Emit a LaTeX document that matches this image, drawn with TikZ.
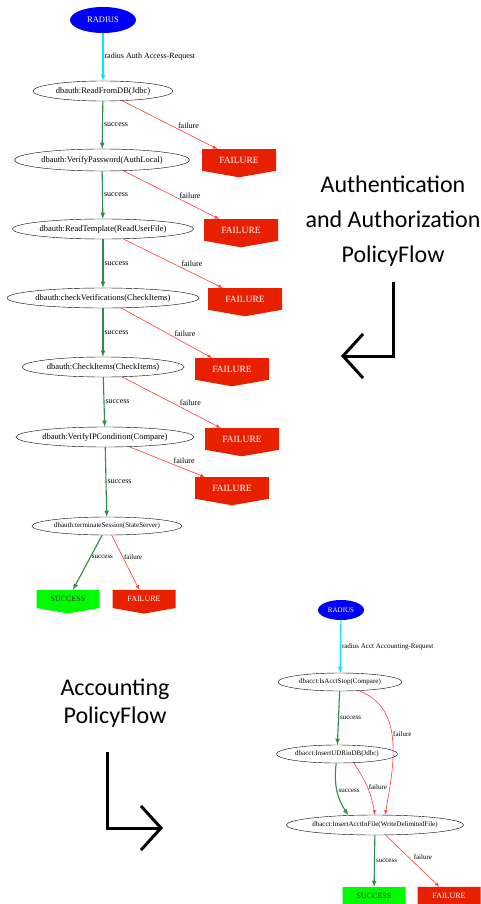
\documentclass[tikz,border=0pt]{standalone}
\usepackage{fontspec}
\setmainfont{Liberation Serif}
\newfontfamily\calibfont{Carlito}
\usetikzlibrary{positioning, arrows, arrows.meta, shapes.geometric, shapes.symbols}

\definecolor{okgreen}{RGB}{45,140,70}
\definecolor{failred}{RGB}{255,60,60}
\definecolor{failfill}{RGB}{232,32,0}
\definecolor{succfill}{RGB}{0,250,0}
\definecolor{radblue}{RGB}{0,0,250}
\definecolor{reqcyan}{RGB}{0,235,245}

\tikzset{
  method/.style={ellipse, draw, thin, inner sep=0pt, minimum height=20pt, font=\fontsize{8.5}{9}\selectfont},
  amethod/.style={method, minimum height=18pt, font=\fontsize{7}{8}\selectfont},
  radnode/.style={ellipse, fill=radblue, text=white, inner sep=0pt, minimum width=66pt, minimum height=26pt, font=\fontsize{8.5}{9}\selectfont},
  endbox/.style={signal, signal to=south, signal from=nowhere, signal pointer angle=160, inner sep=0pt, minimum width=74pt, minimum height=25pt, font=\fontsize{9.5}{10}\selectfont},
  failbox/.style={endbox, fill=failfill, text=white},
  succbox/.style={endbox, fill=succfill, text=black!80},
  smallbox/.style={minimum width=63pt, minimum height=21pt, font=\fontsize{8}{9}\selectfont},
  lbl/.style={font=\fontsize{8}{9}\selectfont, inner sep=1pt},
  albl/.style={font=\fontsize{7}{8}\selectfont, inner sep=1pt},
  ok/.style={draw=okgreen, line width=1.1pt, -latex},
  fail/.style={draw=failred, semithick, -latex},
  req/.style={draw=reqcyan, line width=1.1pt, -latex},
  bigarrow/.style={line width=3pt, -{Straight Barb[length=20pt, width=44pt, line width=3pt]}},
  heading/.style={font=\calibfont\fontsize{24}{35}\selectfont, align=center, text=black}
}

\begin{document}
\begin{tikzpicture}[x=1pt, y=1pt]
  \useasboundingbox (0,0) rectangle (480,-904);

  % authentication and authorization flow
  \node[radnode] (rad) at (103,-20) {RADIUS};
  \node[method, minimum width=140pt] (read) at (103,-91) {dbauth:ReadFromDB(Jdbc)};
  \node[method, minimum width=175pt, minimum height=22pt] (verpw) at (102,-160) {dbauth:VerifyPassword(AuthLocal)};
  \node[method, minimum width=181pt] (tmpl) at (103,-229) {dbauth:ReadTemplate(ReadUserFile)};
  \node[method, minimum width=192pt] (chkver) at (103,-298) {dbauth:checkVerifications(CheckItems)};
  \node[method, minimum width=162pt] (chkit) at (103,-367) {dbauth:CheckItems(CheckItems)};
  \node[method, minimum width=178pt] (verip) at (105,-437) {dbauth:VerifyIPCondition(Compare)};
  \node[method, minimum width=150pt, minimum height=18pt, font=\fontsize{7}{8}\selectfont] (term) at (107,-526) {dbauth:terminateSession(StateServer)};

  \node[failbox] (fail1) at (239,-160) {FAILURE};
  \node[failbox] (fail2) at (241,-230) {FAILURE};
  \node[failbox] (fail3) at (245,-299) {FAILURE};
  \node[failbox] (fail4) at (232,-369) {FAILURE};
  \node[failbox] (fail5) at (242,-439) {FAILURE};
  \node[failbox] (fail6) at (232,-488) {FAILURE};
  \node[succbox, smallbox] (succ) at (68,-599) {SUCCESS};
  \node[failbox, smallbox] (fail7) at (144,-599) {FAILURE};

  \path (rad) edge[req] node[lbl, right] {radius Auth Access-Request} (read);
  \path (read) edge[ok] node[lbl, right] {success} (verpw);
  \path (verpw) edge[ok] node[lbl, right] {success} (tmpl);
  \path (tmpl) edge[ok] node[lbl, right] {success} (chkver);
  \path (chkver) edge[ok] node[lbl, right] {success} (chkit);
  \path (chkit) edge[ok] node[lbl, right] {success} (verip);
  \path (verip) edge[ok] node[lbl, right] {success} (term);
  \path (read) edge[fail] node[lbl, pos=0.58, above right=-1pt] {failure} (fail1);
  \path (verpw) edge[fail] node[lbl, pos=0.58, above right=-1pt] {failure} (fail2);
  \path (tmpl) edge[fail] node[lbl, pos=0.58, above right=-1pt] {failure} (fail3);
  \path (chkver) edge[fail] node[lbl, pos=0.58, above right=-1pt] {failure} (fail4);
  \path (chkit) edge[fail] node[lbl, pos=0.58, above right=-1pt] {failure} (fail5);
  \path (verip) edge[fail] node[lbl, pos=0.58, above right=-1pt] {failure} (fail6);
  \path (term) edge[ok] node[albl, right, pos=0.4] {success} (succ);
  \path (term) edge[fail] node[albl, right, pos=0.4] {failure} (fail7);

  % accounting flow
  \node[radnode, minimum width=46pt, minimum height=20pt, font=\fontsize{7}{8}\selectfont] (arad) at (341,-610) {RADIUS};
  \node[amethod, minimum width=124pt] (stop) at (340,-682) {dbacct:IsAcctStop(Compare)};
  \node[amethod, minimum width=121pt] (udr) at (337,-754) {dbacct:InsertUDRinDB(Jdbc)};
  \node[amethod, minimum width=176pt, minimum height=20pt] (file) at (375,-825) {dbacct:InsertAcctInFile(WriteDelimitedFile)};
  \node[succbox, smallbox] (asucc) at (374,-896) {SUCCESS};
  \node[failbox, smallbox] (afail) at (449,-896) {FAILURE};

  \path (arad) edge[req] node[albl, right] {radius Acct Accounting-Request} (stop);
  \path (stop) edge[ok] node[albl, right] {success} (udr);
  \path (stop.-25) edge[fail, out=-20, in=80] node[albl, pos=0.45, right] {failure} (file.45);
  \path (udr.-95) edge[ok, bend right=20] node[albl, right, pos=0.5] {success} (file.160);
  \path (udr.-28) edge[fail, bend left=12] node[albl, right, pos=0.5] {failure} (file.north);
  \path (file) edge[ok] node[albl, right] {success} (asucc);
  \path (file) edge[fail] node[albl, pos=0.5, above right=0pt] {failure} (afail);

  % headings and turn arrows
  \node[heading] (authtitle) at (393,-221) {Authentication\\and Authorization\\PolicyFlow};
  \coordinate (atop) at (393,-282);
  \coordinate (acorner) at (393,-356);
  \coordinate (aend) at (341,-356);
  \draw[bigarrow] (atop) -- (acorner) -- (aend);

  \node[heading, font=\calibfont\fontsize{24}{28}\selectfont] (accttitle) at (115,-703) {Accounting\\PolicyFlow};
  \coordinate (btop) at (107,-752);
  \coordinate (bcorner) at (107,-828);
  \coordinate (bend) at (163,-828);
  \draw[bigarrow] (btop) -- (bcorner) -- (bend);
\end{tikzpicture}
\end{document}
